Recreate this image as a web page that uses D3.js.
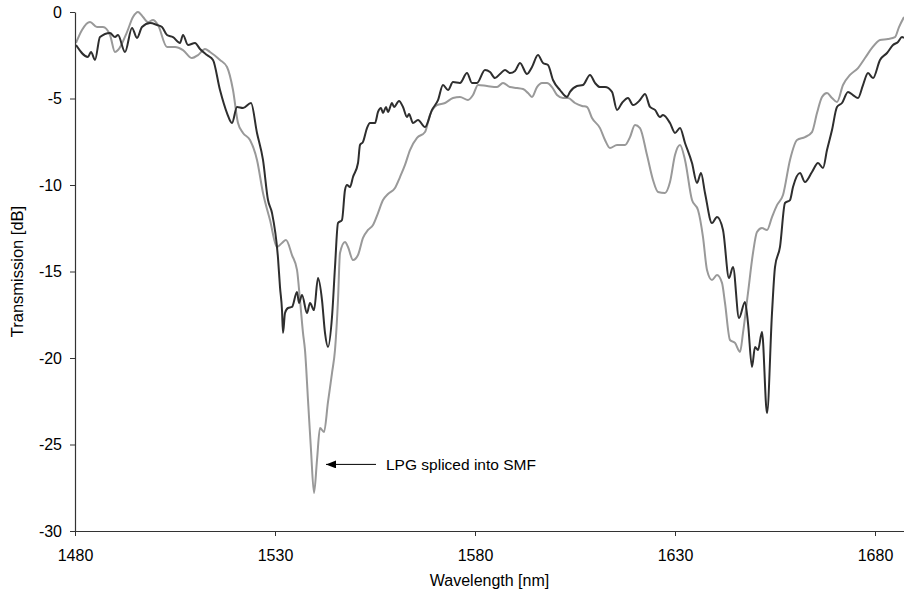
<!DOCTYPE html>
<html>
<head>
<meta charset="utf-8">
<script src="https://cdn.jsdelivr.net/npm/d3@7"></script>
<style>
  body { margin: 0; background: #fff; }
  svg { display: block; font-family: "Liberation Sans", Arial, sans-serif; }
</style>
</head>
<body>
<svg id="chart" width="904" height="594"></svg>
<script>
// wavelength [nm] / transmission [dB]
const smfWl = [1480.25, 1483.25, 1484, 1485, 1486.25, 1488.75, 1490, 1490.75, 1492.5, 1494.25, 1495.5, 1496.75, 1498.75, 1500.5, 1501.75, 1503, 1504.5, 1506.25, 1507, 1508.25, 1510, 1511.25, 1513, 1514.5, 1516.25, 1518, 1519.25, 1520.5, 1522, 1524, 1525.5, 1527, 1528.25, 1529.25, 1530.75, 1531.25, 1531.75, 1532, 1532.5, 1533.25, 1534.25, 1535.5, 1536, 1536.75, 1538, 1538.75, 1539.75, 1540.75, 1541.75, 1542.5, 1543.25, 1544.25, 1545, 1545.75, 1546.75, 1547.5, 1548, 1548.75, 1549.5, 1550.75, 1551.25, 1552, 1553, 1553.75, 1555, 1555.75, 1556.5, 1557, 1557.75, 1558.25, 1559.25, 1559.75, 1561, 1562, 1563, 1563.5, 1564.5, 1565.75, 1567.5, 1569.25, 1570.75, 1572, 1573.25, 1574.5, 1576.25, 1578, 1579.25, 1580.5, 1582.5, 1583.75, 1585, 1586.25, 1587.5, 1588.75, 1590, 1591.25, 1593, 1594.25, 1595.75, 1597, 1598.25, 1599.5, 1601.25, 1603, 1603.75, 1605.5, 1607, 1608.75, 1610, 1611.25, 1612.5, 1614.25, 1615.5, 1616.75, 1618.25, 1619.5, 1621.25, 1622.5, 1623.75, 1625, 1626.25, 1627, 1628.75, 1630, 1631.25, 1632.5, 1634.25, 1635.5, 1636.5, 1637.5, 1639.25, 1640.5, 1642, 1643.5, 1644.5, 1646, 1647.5, 1648.25, 1649.25, 1650, 1650.75, 1651.75, 1653, 1654.25, 1655, 1656.25, 1657.5, 1658.75, 1659.5, 1661.25, 1662.5, 1664.25, 1665.75, 1667, 1668, 1669.25, 1670.5, 1671.75, 1673.25, 1674.5, 1675.75, 1677, 1678.25, 1679.5, 1681.25, 1683, 1684.5, 1685.75, 1686.75, 1687.25];
const smfDb = [-1.91, -2.60, -2.31, -2.77, -1.45, -1.21, -1.45, -1.33, -2.31, -0.92, -1.50, -0.87, -0.64, -0.75, -0.87, -1.33, -1.45, -1.79, -1.33, -1.91, -1.79, -2.14, -2.49, -2.77, -4.51, -5.84, -6.42, -5.49, -5.55, -5.26, -6.99, -8.55, -10.87, -11.62, -14.22, -15.90, -17.23, -18.55, -17.40, -17.11, -17.05, -16.18, -16.82, -16.36, -17.40, -16.82, -17.23, -15.38, -16.65, -18.55, -19.36, -17.63, -14.74, -12.20, -12.02, -10.29, -10.00, -10.12, -9.54, -8.73, -7.69, -7.51, -6.71, -6.42, -6.42, -5.78, -5.55, -5.84, -5.49, -5.78, -5.26, -5.49, -5.14, -5.49, -6.07, -5.90, -6.42, -6.24, -6.65, -5.66, -5.09, -4.22, -4.51, -4.05, -4.10, -3.53, -4.10, -4.10, -3.35, -3.47, -3.82, -3.58, -3.35, -3.53, -3.41, -2.95, -3.58, -3.18, -2.49, -2.95, -3.06, -3.93, -4.51, -4.91, -4.62, -4.28, -4.22, -3.64, -4.10, -4.34, -4.34, -4.62, -5.66, -5.26, -4.97, -5.38, -5.09, -4.74, -5.49, -5.66, -6.07, -5.95, -6.42, -6.99, -6.71, -7.57, -8.73, -9.88, -9.31, -10.46, -12.20, -11.85, -12.60, -15.38, -14.74, -17.69, -16.76, -17.98, -20.52, -19.36, -19.54, -18.50, -23.18, -17.40, -14.74, -13.58, -11.04, -10.87, -10.12, -9.31, -9.83, -9.25, -8.73, -9.02, -7.98, -6.82, -5.49, -5.26, -4.62, -4.80, -4.97, -4.22, -3.53, -3.82, -2.77, -2.37, -1.91, -1.73, -1.45, -1.50];

const lpgWl = [1480.25, 1481.75, 1483.75, 1485.5, 1487, 1488.75, 1490, 1490.75, 1493, 1494.5, 1495.75, 1497, 1498.25, 1499.5, 1500.75, 1503, 1505, 1507, 1509.25, 1510.75, 1512.5, 1513.75, 1516.25, 1518, 1519.5, 1520.75, 1522, 1523.75, 1525.5, 1527, 1528.75, 1530.5, 1531.75, 1532.75, 1534.25, 1535.5, 1536.25, 1537, 1537.5, 1538.25, 1539, 1539.75, 1540.5, 1541.25, 1542.25, 1543.25, 1544.25, 1545, 1545.75, 1546.25, 1547.5, 1548.25, 1549.5, 1550.75, 1552, 1553.25, 1554.5, 1555.75, 1557, 1558.25, 1560, 1561.25, 1562.5, 1563.75, 1565.5, 1567.5, 1568.75, 1570.5, 1572.5, 1574.5, 1576.25, 1578.25, 1579.5, 1580.75, 1583, 1585.5, 1587, 1588.75, 1590.5, 1592, 1593.25, 1594.25, 1595.5, 1596.75, 1598, 1599.25, 1600.5, 1602, 1603.25, 1605, 1606.75, 1608, 1609.25, 1611.25, 1612.5, 1613.75, 1615.5, 1617.5, 1618.75, 1620, 1621.25, 1623, 1624.5, 1625.75, 1627.5, 1628.75, 1630, 1631.25, 1632.5, 1634.25, 1635.75, 1637, 1638, 1639.25, 1640.5, 1641.75, 1642.5, 1643.75, 1645, 1646.25, 1647, 1648.25, 1649.5, 1650.5, 1651.75, 1653, 1654.25, 1655.5, 1657, 1658.75, 1660.5, 1662.5, 1664.25, 1665.5, 1666.75, 1668, 1669.25, 1670.5, 1672, 1673.75, 1675.75, 1677.5, 1679.25, 1681.25, 1683.25, 1685, 1686, 1687.25];
const lpgDb = [-1.79, -1.04, -0.58, -0.87, -0.87, -1.33, -2.31, -2.20, -1.16, -0.29, 0, -0.29, -0.58, -0.46, -0.75, -2.02, -2.02, -2.20, -2.66, -2.49, -2.14, -2.31, -2.77, -3.18, -4.51, -6.42, -6.99, -7.40, -8.55, -10.46, -12.02, -13.58, -13.35, -13.18, -14.05, -14.91, -16.65, -18.55, -19.54, -22.43, -25.32, -27.80, -25.90, -24.05, -24.28, -22.54, -20.87, -19.54, -16.65, -13.93, -13.29, -13.58, -14.34, -14.05, -13.06, -12.60, -12.31, -11.62, -10.87, -10.52, -10.17, -9.54, -8.84, -7.98, -7.28, -6.94, -5.95, -5.38, -5.26, -4.97, -4.91, -5.09, -4.80, -4.22, -4.28, -4.34, -4.10, -4.34, -4.39, -4.45, -4.68, -4.91, -4.34, -4.10, -4.10, -4.34, -4.80, -4.97, -4.97, -5.26, -5.43, -5.49, -6.13, -6.71, -7.40, -7.86, -7.69, -7.69, -7.23, -6.53, -6.71, -8.27, -9.71, -10.40, -10.46, -9.83, -8.27, -7.69, -8.55, -10.87, -11.45, -13.01, -14.91, -15.49, -15.20, -15.66, -16.82, -18.96, -19.13, -19.65, -18.55, -16.24, -13.93, -12.72, -12.49, -12.60, -11.85, -11.16, -10.58, -8.55, -7.40, -7.23, -6.94, -5.84, -4.91, -4.68, -4.97, -5.20, -4.22, -3.64, -3.24, -2.66, -2.08, -1.62, -1.56, -1.45, -0.87, -0.29];

const xTicks = [1480, 1530, 1580, 1630, 1680];
const yTicks = [0, -5, -10, -15, -20, -25, -30];

const annotation = { text: "LPG spliced into SMF", wl: 1542.75, db: -26.15 };

const margin = { top: 12, right: 0, bottom: 63, left: 75 };
const width = 904, height = 594;
const fontSize = 16;

const svg = d3.select("#chart");

const x = d3.scaleLinear()
  .domain([1480, 1687.5])
  .range([margin.left, width - margin.right + 1]);

const y = d3.scaleLinear()
  .domain([-30, 0])
  .range([height - margin.bottom, margin.top]);

const line = d3.line()
  .x(d => x(d[0]))
  .y(d => y(d[1]))
  .curve(d3.curveMonotoneX);

const series = [
  { wl: smfWl, db: smfDb, color: "#2e2e2e" },
  { wl: lpgWl, db: lpgDb, color: "#999999" }
];

// draw grey first so the dark trace sits on top where they cross
series.slice().reverse().forEach(s => {
  svg.append("path")
    .datum(s.wl.map((w, i) => [w, s.db[i]]))
    .attr("fill", "none")
    .attr("stroke", s.color)
    .attr("stroke-width", 2)
    .attr("stroke-linejoin", "round")
    .attr("d", line);
});

// axes
const xAxis = svg.append("g")
  .attr("transform", `translate(0,${y(-30)})`)
  .call(d3.axisBottom(x).tickValues(xTicks).tickSize(5).tickSizeOuter(0).tickPadding(14)
    .tickFormat(d3.format("d")));

const yAxis = svg.append("g")
  .attr("transform", `translate(${x(1480)},0)`)
  .call(d3.axisLeft(y).tickValues(yTicks).tickSize(5).tickSizeOuter(0).tickPadding(8)
    .tickFormat(d => String(d)));

[xAxis, yAxis].forEach(g => {
  g.select(".domain").attr("stroke", "#333").attr("stroke-width", 1.2);
  g.selectAll(".tick line").attr("stroke", "#333");
  g.selectAll(".tick text")
    .attr("fill", "#000")
    .attr("font-size", fontSize)
    .attr("font-family", "'Liberation Sans', Arial, sans-serif");
});

// axis titles
svg.append("text")
  .attr("x", (x(1480) + width) / 2)
  .attr("y", 586)
  .attr("text-anchor", "middle")
  .attr("font-size", fontSize)
  .text("Wavelength [nm]");

svg.append("text")
  .attr("transform", `translate(23,${(y(0) + y(-30)) / 2}) rotate(-90)`)
  .attr("text-anchor", "middle")
  .attr("font-size", 16.5)
  .text("Transmission [dB]");

// annotation arrow
svg.append("defs").append("marker")
  .attr("id", "head")
  .attr("viewBox", "0 0 10 8")
  .attr("refX", 10)
  .attr("refY", 4)
  .attr("markerWidth", 10)
  .attr("markerHeight", 8)
  .attr("markerUnits", "userSpaceOnUse")
  .attr("orient", "auto")
  .append("path")
  .attr("d", "M0,0L10,4L0,8Z")
  .attr("fill", "#000");

svg.append("line")
  .attr("x1", x(annotation.wl) + 50)
  .attr("y1", y(annotation.db))
  .attr("x2", x(annotation.wl))
  .attr("y2", y(annotation.db))
  .attr("stroke", "#000")
  .attr("stroke-width", 1)
  .attr("marker-end", "url(#head)");

svg.append("text")
  .attr("x", x(annotation.wl) + 60)
  .attr("y", y(annotation.db))
  .attr("dy", "0.35em")
  .attr("font-size", 15.5)
  .text(annotation.text);
</script>
</body>
</html>
